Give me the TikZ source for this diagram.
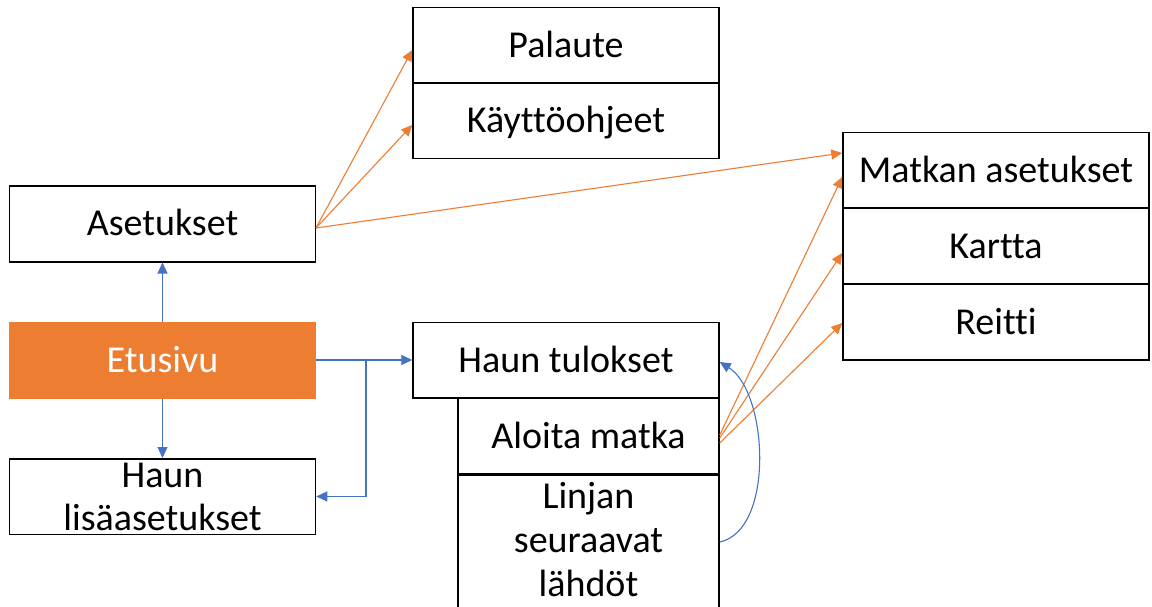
\documentclass[tikz,border=0pt]{standalone}
\usepackage{fontspec}
\setmainfont{Carlito}[Ligatures={NoCommon}]
\usetikzlibrary{arrows.meta}
\definecolor{offorange}{HTML}{ED7D31}
\definecolor{offblue}{HTML}{4472C4}
\tikzset{
  box/.style={draw=black, line width=1.5pt, rectangle, minimum width=306pt, minimum height=75.5pt, inner sep=0pt,
    font=\fontsize{38}{44}\selectfont, text height=24pt, text depth=0pt},
  mbox/.style={draw=black, line width=1.5pt, rectangle, minimum width=306pt, minimum height=75.5pt, inner sep=0pt,
    font=\fontsize{38}{43}\selectfont, align=center},
  obox/.style={box, fill=offorange, draw=offorange, text=white},
  tip/.style={-{Triangle[length=11pt,width=10pt]}},
  oarr/.style={tip, draw=offorange, line width=1.1pt},
  barr/.style={tip, draw=offblue, line width=1.1pt},
}
\begin{document}
\begin{tikzpicture}[x=1pt,y=-1pt]
\path[use as bounding box, clip] (0,0) rectangle (1152,607);
\fill[white] (0,0) rectangle (1152,607);
% boxes
\node[box] (palaute) at (566,45.5) {Palaute};
\node[box] (kaytto) at (566,121) {Käyttöohjeet};
\node[box] (asetukset) at (162.5,224) {Asetukset};
\node[obox] (etusivu) at (162.5,360) {Etusivu};
\node[mbox] (lisa) at (162.5,496.5) {Haun\\lisäasetukset};
\node[box] (tulokset) at (566,360) {Haun tulokset};
\node[box, minimum width=261pt] (aloita) at (588.5,436) {Aloita matka};
\node[box, minimum width=261pt, minimum height=180pt, anchor=north] (linjan) at (588.5,474) {};
\node[font=\fontsize{38}{44}\selectfont, align=center, inner sep=0pt] (linjantxt) at (588.5,540) {Linjan\\seuraavat\\lähdöt};
\node[box] (matkan) at (996,170.5) {Matkan asetukset};
\node[box] (kartta) at (996,246) {Kartta};
\node[box] (reitti) at (996,322) {Reitti};
% orange connectors
\coordinate (aset-r) at (316,228);
\draw[oarr] (aset-r) -- (palaute.west |- 0,50);
\draw[oarr] (aset-r) -- (kaytto.west |- 0,125);
\draw[oarr] (aset-r) -- (matkan.west |- 0,153);
\draw[oarr] (aloita.east |- 0,435) -- (matkan.west |- 0,177);
\draw[oarr] (aloita.east |- 0,438) -- (kartta.west |- 0,253);
\draw[oarr] (aloita.east |- 0,443) -- (reitti.west |- 0,323);
% blue connectors
\draw[barr] (etusivu.north) -- (asetukset.south);
\draw[barr] (etusivu.south) -- (lisa.north);
\draw[barr] (etusivu.east) -- (tulokset.west);
\coordinate (branch) at (366,360);
\coordinate (branchdown) at (366,496.5);
\draw[barr] (branch) -- (branchdown) -- (lisa.east);
\draw[barr] (linjan.east |- 0,542) .. controls (775,530) and (768,392) .. (tulokset.east |- 0,362);
\end{tikzpicture}
\end{document}
